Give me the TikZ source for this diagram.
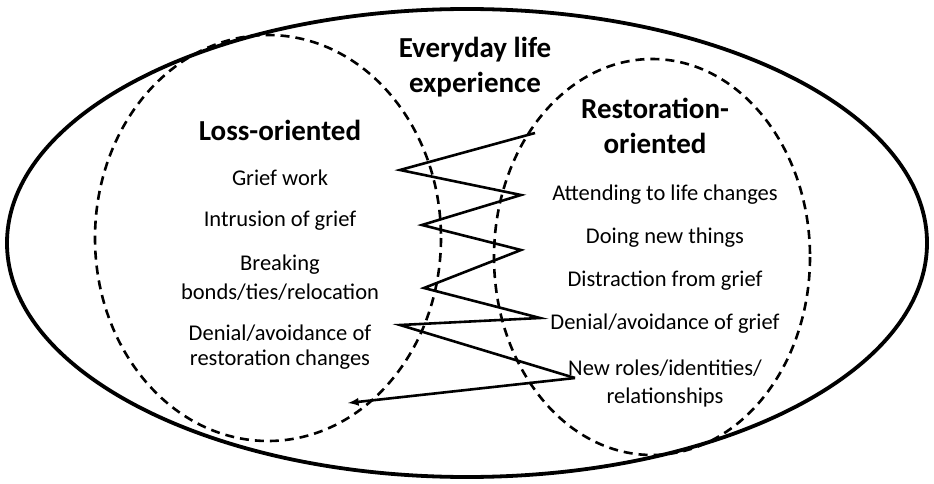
\documentclass[tikz,border=0pt]{standalone}
\usepackage{fontspec}
\setmainfont{Carlito}
\begin{document}
\begin{tikzpicture}[x=1pt,y=-1pt,
  item/.style={font=\fontsize{22.5}{24}\selectfont,inner sep=0pt},
  head/.style={font=\fontsize{29}{31}\bfseries,inner sep=0pt},
  circ/.style={draw,line width=2.6pt,dash pattern=on 9pt off 6pt},
  zig/.style={line width=2.6pt}]
\useasboundingbox (0,0) rectangle (934,484);
\draw[line width=3.8pt] (467,243) ellipse [x radius=460, y radius=234];
\draw[circ] (268,238) ellipse [x radius=173, y radius=203];
\draw[circ] (652,257) ellipse [x radius=158, y radius=198];
\node[head] (e1) at (475,50) {Everyday life};
\node[head] (e2) at (475,85) {experience};
\node[head] (lo) at (280,130) {Loss-oriented};
\node[head] (r1) at (655,108) {Restoration-};
\node[head] (r2) at (655,143) {oriented};
\node[item] at (280,178) {Grief work};
\node[item] at (280,221) {Intrusion of grief};
\node[item] at (280,265) {Breaking};
\node[item] at (280,292) {bonds/ties/relocation};
\node[item] at (280,333) {Denial/avoidance of};
\node[item] at (280,360) {restoration changes};
\node[item] at (665,195) {Attending to life changes};
\node[item] at (665,238) {Doing new things};
\node[item] at (665,281) {Distraction from grief};
\node[item] at (665,324) {Denial/avoidance of grief};
\node[item] at (665,368) {New roles/identities/};
\node[item] at (665,397) {relationships};
\coordinate (z0) at (535,133);
\coordinate (z1) at (400,170);
\coordinate (z2) at (521,195);
\coordinate (z3) at (422,225);
\coordinate (z4) at (521,250);
\coordinate (z5) at (424,288);
\coordinate (z6) at (540,318);
\coordinate (z7) at (400,325);
\coordinate (z8) at (575,378);
\coordinate (z9) at (348,403);
\draw[zig,line join=miter] (z0)--(z1)--(z2)--(z3)--(z4)--(z5)--(z6)--(z7)--(z8);
\draw[zig,-latex] (z8)--(z9);
\end{tikzpicture}
\end{document}
